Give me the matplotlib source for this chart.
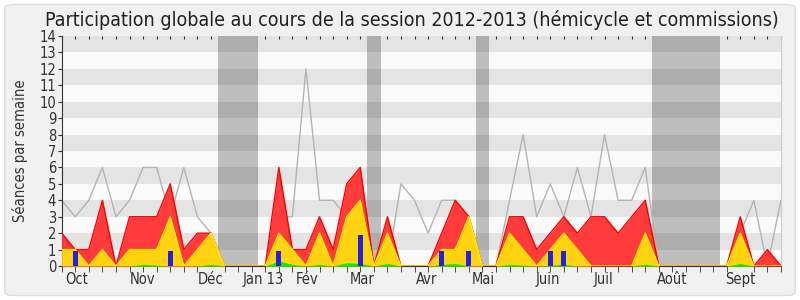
import matplotlib
matplotlib.use('Agg')
import matplotlib.pyplot as plt
import matplotlib.patches as mpatches
import numpy as np

# Semaines de la session (0 = début octobre 2012)
semaines = np.arange(54)

# Activité moyenne (ligne grise)
moyenne = [4, 3, 4, 6, 3, 4, 6, 6, 3, 6, 3, 2, 0, 0, 0, 0, 3, 3, 12, 4,
           4, 3, 3, 0, 0, 5, 4, 2, 4, 4, 3, 0, 0, 4, 8, 3, 5, 3, 6, 3,
           8, 4, 4, 6, 0, 0, 0, 0, 0, 0, 2, 4, 0, 4]
# Présence totale (hémicycle + commissions)
total = [2, 1, 1, 4, 0, 3, 3, 3, 5, 1, 2, 2, 0, 0, 0, 0, 6, 1, 1, 3,
         1, 5, 6, 0, 3, 0, 0, 0, 2, 4, 3, 0, 0, 3, 3, 1, 2, 3, 2, 3,
         3, 2, 3, 4, 0, 0, 0, 0, 0, 0, 3, 0, 1, 0]
# Présence hémicycle
hemicycle = [1, 1, 0, 1, 0, 1, 1, 1, 3, 0, 1, 2, 0, 0, 0, 0, 2, 1, 0, 2,
             0, 3, 4, 0, 2, 0, 0, 0, 1, 1, 3, 0, 0, 2, 1, 0, 1, 2, 1, 0,
             0, 0, 0, 2, 0, 0, 0, 0, 0, 0, 2, 0, 0, 0]
# Interventions
interventions = [0, 0, 0, 0, 0, 0, 0.1, 0.05, 0, 0, 0, 0.1, 0, 0, 0, 0, 0.3, 0.1, 0, 0.1,
                 0, 0.2, 0.15, 0, 0.15, 0, 0, 0, 0.1, 0.15, 0, 0, 0, 0.1, 0.05, 0, 0.05, 0.1, 0, 0,
                 0, 0, 0, 0.1, 0, 0, 0, 0, 0, 0, 0.15, 0, 0, 0]
# Questions orales
sem_questions = [1, 8, 16, 22, 28, 30, 36, 37]
questions = [0.9, 0.9, 0.9, 1.9, 0.9, 0.9, 0.9, 0.9]

# Vacances parlementaires
vacances = [(11.5, 14.5), (22.5, 23.5), (30.5, 31.5), (43.5, 48.5)]

mois = ['Oct', 'Nov', 'Déc', 'Jan 13', 'Fév', 'Mar', 'Avr', 'Mai', 'Juin', 'Juil', 'Août', 'Sept']
pos_mois = [1.1, 5.95, 11, 14.85, 18.1, 22.15, 26.9, 31.05, 35.85, 39.9, 44.95, 50]

plt.rcParams['font.family'] = 'DejaVu Sans'
plt.rcParams['font.stretch'] = 'condensed'

fig = plt.figure(figsize=(8, 3), dpi=100)
fig.patch.set_facecolor('white')
cadre = mpatches.FancyBboxPatch((0.006, 0.015), 0.988, 0.97,
                                boxstyle='round,pad=0,rounding_size=0.012',
                                transform=fig.transFigure, facecolor='#f0f0f0',
                                edgecolor='#dcdcdc', linewidth=1, zorder=-10)
fig.patches.append(cadre)

ax = fig.add_axes([0.0771, 0.1133, 0.8991, 0.7667])
ax.set_facecolor('#fafafa')

for debut, fin in vacances:
    ax.axvspan(debut, fin, color='#bebebe', zorder=1, linewidth=0)

# Bandes horizontales
for y in range(1, 14, 2):
    ax.axhspan(y, y + 1, color='black', alpha=0.085, zorder=1.5, linewidth=0)

ax.plot(semaines, moyenne, color='#b4b4b4', linewidth=1, zorder=2)
ax.fill_between(semaines, total, color='#ff3b3b', linewidth=0, zorder=3)
ax.plot(semaines, total, color='#ff0000', linewidth=1, zorder=3.1)
ax.fill_between(semaines, hemicycle, color='#ffd30f', linewidth=0, zorder=4)
ax.plot(semaines, hemicycle, color='#ffee00', linewidth=1, zorder=4.1)
ax.fill_between(semaines, interventions, color='#00ee00', linewidth=0, zorder=5)
ax.bar(sem_questions, questions, width=0.35, color='#2222dd', zorder=6)

ax.set_xlim(0, 53)
ax.set_ylim(0, 14)
ax.set_yticks(range(15))
ax.set_xticks(semaines, minor=True)
ax.set_xticks(pos_mois)
ax.set_xticklabels(mois, fontsize=10.5, color='#333333')
ax.tick_params(axis='x', which='major', length=0, pad=4)
ax.tick_params(axis='x', which='minor', length=4, direction='out', color='#333333')
ax.tick_params(axis='y', length=3, labelsize=10.5, labelcolor='#333333', color='#333333', pad=1)
ax.set_ylabel('Séances par semaine', fontsize=10.5, color='#333333')
ax.yaxis.set_label_coords(-0.047, 0.5)

# petits repères en haut
haut = ax.secondary_xaxis('top')
haut.set_xticks(semaines)
haut.tick_params(direction='in', length=2, color='#333333', labeltop=False)
haut.spines['top'].set_visible(False)

ax.spines['top'].set_visible(False)
ax.spines['right'].set_color('#cccccc')
ax.spines['left'].set_color('#333333')
ax.spines['bottom'].set_color('#333333')

fig.text(0.515, 0.965, 'Participation globale au cours de la session 2012-2013 (hémicycle et commissions)',
         ha='center', va='top', fontsize=14, color='#222222')

plt.savefig('out.png', dpi=100, facecolor=fig.get_facecolor())
